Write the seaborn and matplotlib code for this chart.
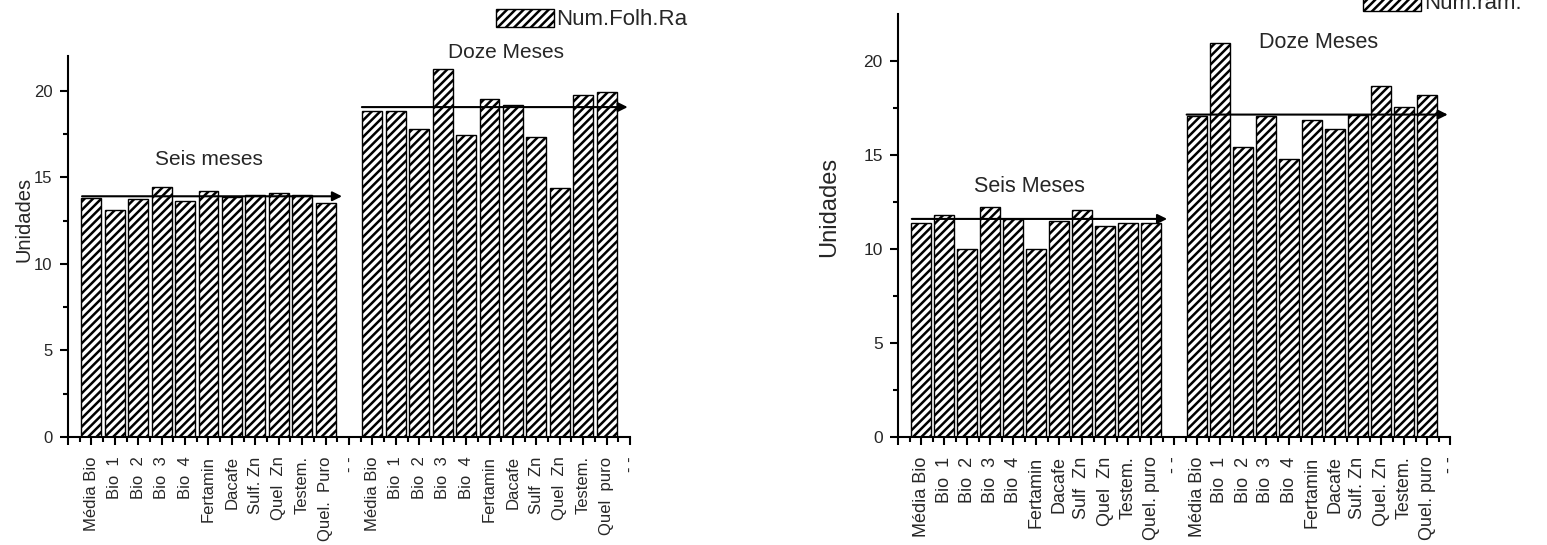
import numpy as np
import pandas as pd
import seaborn as sns
import matplotlib.pyplot as plt

# left panel: Num.Folh.Ra
labels_folh_6 = ['Média Bio', 'Bio  1', 'Bio  2', 'Bio  3', 'Bio  4', 'Fertamin',
                 'Dacafe', 'Sulf. Zn', 'Quel  Zn', 'Testem.', 'Quel.  Puro']
folh_6 = [13.8, 13.1, 13.75, 14.45, 13.65, 14.2, 13.85, 13.95, 14.1, 13.95, 13.5]
labels_folh_12 = ['Média Bio', 'Bio  1', 'Bio  2', 'Bio  3', 'Bio  4', 'Fertamin',
                  'Dacafe', 'Sulf  Zn', 'Quel  Zn', 'Testem.', 'Quel  puro']
folh_12 = [18.85, 18.85, 17.8, 21.25, 17.45, 19.5, 19.15, 17.35, 14.35, 19.75, 19.95]
folh_mean = [13.9, 19.05]

# right panel: Num.ram.
labels_ram_6 = ['Média Bio', 'Bio  1', 'Bio  2', 'Bio  3', 'Bio  4', 'Fertamin',
                'Dacafe', 'Sulf  Zn', 'Quel  Zn', 'Testem.', 'Quel. puro']
ram_6 = [11.4, 11.8, 10.0, 12.25, 11.6, 10.0, 11.5, 12.05, 11.2, 11.4, 11.4]
labels_ram_12 = ['Média Bio', 'Bio  1', 'Bio  2', 'Bio  3', 'Bio  4', 'Fertamin',
                 'Dacafe', 'Sulf. Zn', 'Quel. Zn', 'Testem.', 'Quel. puro']
ram_12 = [17.05, 20.95, 15.45, 17.05, 14.8, 16.85, 16.4, 17.15, 18.65, 17.55, 18.2]
ram_mean = [11.6, 17.15]

sns.set_style('ticks')
plt.rcParams['font.family'] = ['Liberation Sans', 'DejaVu Sans']
plt.rcParams['hatch.linewidth'] = 1.8

fig = plt.figure(figsize=(15.47, 5.45), dpi=100)


def draw_panel(ax, lab6, v6, lab12, v12, means, name, ymax, fs_ticks, fs_x, fs_lab):
    n = len(v6)
    pos = np.r_[np.arange(n), np.arange(n + 1, 2 * n + 1)]
    df = pd.DataFrame({'pos': pos, 'value': list(v6) + list(v12)})
    sns.barplot(data=df, x='pos', y='value', native_scale=True, width=0.85,
                color='white', edgecolor='black', linewidth=1.0, hatch='////',
                saturation=1, errorbar=None, label=name, ax=ax)
    ax.set_xlim(-1, 2 * n + 1)
    ax.set_ylim(0, ymax)
    ax.set_xticks(np.arange(-1, 2 * n + 2))
    ax.set_xticklabels([''] + list(lab6) + ['- -'] + list(lab12) + ['- -'],
                       rotation=90, fontsize=fs_x)
    ax.set_xticks(np.arange(-0.5, 2 * n + 1, 1), minor=True)
    ax.set_yticks([0, 5, 10, 15, 20])
    ax.set_yticks(np.arange(2.5, ymax, 5), minor=True)
    ax.tick_params(axis='y', labelsize=fs_ticks)
    ax.tick_params(which='major', length=6, width=1.5, pad=5, color='black')
    ax.tick_params(which='minor', length=3.5, width=1.5, color='black')
    ax.tick_params(axis='x', which='major', pad=8)
    sns.despine(ax=ax)
    for s in ['left', 'bottom']:
        ax.spines[s].set_linewidth(1.5)
        ax.spines[s].set_color('black')
    ax.set_xlabel('')
    ax.set_ylabel('Unidades', fontsize=fs_lab)
    # mean arrows
    for m, (a, b) in zip(means, [(-0.4, n - 0.3), (n + 0.55, 2 * n + 0.9)]):
        ax.annotate('', xy=(b, m), xytext=(a, m),
                    arrowprops=dict(arrowstyle='-|>', color='black', lw=1.5,
                                    mutation_scale=14, shrinkA=0, shrinkB=0))


ax1 = fig.add_axes([68 / 1547, 1 - 437 / 545, 562 / 1547, 381 / 545])
draw_panel(ax1, labels_folh_6, folh_6, labels_folh_12, folh_12, folh_mean,
           'Num.Folh.Ra', 22, 12, 12, 14.5)
ax1.yaxis.set_label_coords(-0.062, 0.57)
ax1.text(5, 16.05, 'Seis meses', ha='center', va='center', fontsize=15)
ax1.text(17.7, 22.2, 'Doze Meses', ha='center', va='center', fontsize=15,
         clip_on=False)
ax1.legend(loc='center left', bbox_to_anchor=(496 / 1547, 1 - 19.5 / 545),
           bbox_transform=fig.transFigure, frameon=False, fontsize=16,
           handlelength=2.6, handleheight=0.9, handletextpad=0.1,
           borderpad=0, borderaxespad=0)

ax2 = fig.add_axes([898 / 1547, 1 - 437 / 545, 552 / 1547, 423 / 545])
draw_panel(ax2, labels_ram_6, ram_6, labels_ram_12, ram_12, ram_mean,
           'Num.ram.', 22.5, 12.5, 13, 17)
ax2.yaxis.set_label_coords(-0.105, 0.543)
ax2.text(4.7, 13.35, 'Seis Meses', ha='center', va='center', fontsize=15.5)
ax2.text(17.3, 21.0, 'Doze Meses', ha='center', va='center', fontsize=15.5)
ax2.legend(loc='center left', bbox_to_anchor=(1363 / 1547, 1 - 3.5 / 545),
           bbox_transform=fig.transFigure, frameon=False, fontsize=16,
           handlelength=2.6, handleheight=0.9, handletextpad=0.15,
           borderpad=0, borderaxespad=0)

fig.savefig('out.png', dpi=100)
